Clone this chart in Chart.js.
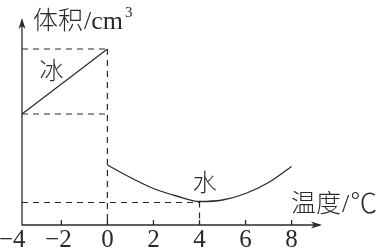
<!DOCTYPE html>
<html>
<head>
<meta charset="utf-8">
<script src="https://cdn.jsdelivr.net/npm/chart.js@4"></script>
<style>
  html, body { margin: 0; padding: 0; background: #fff; }
  #wrap { width: 385px; height: 250px; }
</style>
</head>
<body>
<div id="wrap"><canvas id="volChart" width="385" height="250"></canvas></div>
<script>
// data (volume in arbitrary units)
const iceTemps = [-3.71, 0];
const iceVol = [11.1, 17.6];
const waterTemps = [0, 1, 2, 3, 4, 5, 6, 7, 8];
const waterVol = [6.0, 4.75, 3.65, 2.9, 2.35, 2.5, 3.15, 4.25, 5.85];
const tickValues = [-4, -2, 0, 2, 4, 6, 8];
const tickLabels = ['\u22124', '\u22122', '0', '2', '4', '6', '8'];

const INK = '#2a2a2a';
const CJK = '"Noto Sans CJK SC", sans-serif';
const SERIF = '"Liberation Serif", "DejaVu Serif", serif';

const toPoints = (xs, ys) => xs.map((x, i) => ({ x: x, y: ys[i] }));

// axes with arrows, ticks, dashed guides and texts
const decor = {
    id: 'decor',
    beforeDatasetsDraw(chart) {
        const { ctx, chartArea: a, scales: { x, y } } = chart;
        ctx.save();
        ctx.strokeStyle = INK;
        ctx.lineWidth = 1.2;
        ctx.setLineDash([6, 5]);
        const dash = (x1, y1, x2, y2) => {
            ctx.beginPath();
            ctx.moveTo(x1, y1);
            ctx.lineTo(x2, y2);
            ctx.stroke();
        };
        const x0 = x.getPixelForValue(0);
        const x4 = x.getPixelForValue(4);
        const minV = Math.min(...waterVol);
        dash(a.left, y.getPixelForValue(iceVol[1]), x0, y.getPixelForValue(iceVol[1]));
        dash(a.left, y.getPixelForValue(iceVol[0]), x0, y.getPixelForValue(iceVol[0]));
        dash(x0, y.getPixelForValue(iceVol[1]), x0, a.bottom);
        dash(a.left, y.getPixelForValue(minV) + 1, x4, y.getPixelForValue(minV) + 1);
        dash(x4, y.getPixelForValue(minV), x4, a.bottom);
        ctx.restore();
    },
    afterDatasetsDraw(chart) {
        const { ctx, chartArea: a, scales: { x, y } } = chart;
        ctx.save();
        ctx.strokeStyle = INK;
        ctx.fillStyle = INK;
        ctx.lineWidth = 1.3;
        // axes
        ctx.beginPath();
        ctx.moveTo(a.left, a.top + 2);
        ctx.lineTo(a.left, a.bottom);
        ctx.lineTo(a.right - 2, a.bottom);
        ctx.stroke();
        // arrow heads
        ctx.beginPath();
        ctx.moveTo(a.left, a.top);
        ctx.lineTo(a.left - 3.5, a.top + 11);
        ctx.lineTo(a.left, a.top + 8);
        ctx.lineTo(a.left + 3.5, a.top + 11);
        ctx.closePath();
        ctx.fill();
        ctx.beginPath();
        ctx.moveTo(a.right, a.bottom);
        ctx.lineTo(a.right - 11, a.bottom - 3.5);
        ctx.lineTo(a.right - 8, a.bottom);
        ctx.lineTo(a.right - 11, a.bottom + 3.5);
        ctx.closePath();
        ctx.fill();
        // small ticks and labels
        ctx.font = '25px ' + SERIF;
        ctx.textAlign = 'center';
        ctx.textBaseline = 'alphabetic';
        tickValues.forEach((v, i) => {
            const px = x.getPixelForValue(v);
            if (v > x.min) {
                ctx.beginPath();
                ctx.moveTo(px, a.bottom);
                ctx.lineTo(px, a.bottom - 5);
                ctx.stroke();
            }
            ctx.fillText(tickLabels[i], px - (v < 0 ? 3 : 0), a.bottom + 22);
        });
        // y title
        ctx.textAlign = 'left';
        ctx.font = '300 25px ' + CJK;
        ctx.fillText('体积', 33, 29);
        let w = ctx.measureText('体积').width;
        ctx.font = '26px ' + SERIF;
        ctx.fillText('/cm', 34 + w, 29);
        w += ctx.measureText('/cm').width;
        ctx.font = '15px ' + SERIF;
        ctx.fillText('3', 34 + w + 2, 17);
        // x title
        ctx.font = '300 25px ' + CJK;
        ctx.fillText('温度', 291, 212);
        w = ctx.measureText('温度').width;
        ctx.font = '26px ' + SERIF;
        ctx.fillText('/', 292 + w, 212);
        w += ctx.measureText('/').width;
        ctx.font = '300 27px ' + CJK;
        ctx.fillText('\u2103', 293 + w, 213);
        // series labels
        ctx.textAlign = 'center';
        ctx.textBaseline = 'middle';
        ctx.font = '300 24px ' + CJK;
        ctx.fillText('冰', x.getPixelForValue(-2.43), y.getPixelForValue(15.5));
        ctx.fillText('水', x.getPixelForValue(4.23), y.getPixelForValue(4.3));
        ctx.restore();
    }
};

const config = {
    type: 'scatter',
    data: {
        datasets: [{
            label: '冰',
            data: toPoints(iceTemps, iceVol),
            showLine: true,
            borderColor: INK,
            borderWidth: 1.3,
            pointRadius: 0,
            tension: 0
        }, {
            label: '水',
            data: toPoints(waterTemps, waterVol),
            showLine: true,
            borderColor: INK,
            borderWidth: 1.3,
            pointRadius: 0,
            tension: 0.4,
            cubicInterpolationMode: 'monotone'
        }]
    },
    options: {
        responsive: false,
        animation: false,
        layout: { padding: { left: 22, right: 63, top: 18, bottom: 25 } },
        plugins: {
            legend: { display: false },
            tooltip: { enabled: false }
        },
        scales: {
            x: {
                type: 'linear',
                min: -3.71,
                max: 9.32,
                display: false
            },
            y: {
                type: 'linear',
                min: 0,
                max: 20.7,
                display: false
            }
        }
    },
    plugins: [decor]
};

document.addEventListener('DOMContentLoaded', function() {
    new Chart(document.getElementById('volChart'), config);
});
</script>
</body>
</html>
